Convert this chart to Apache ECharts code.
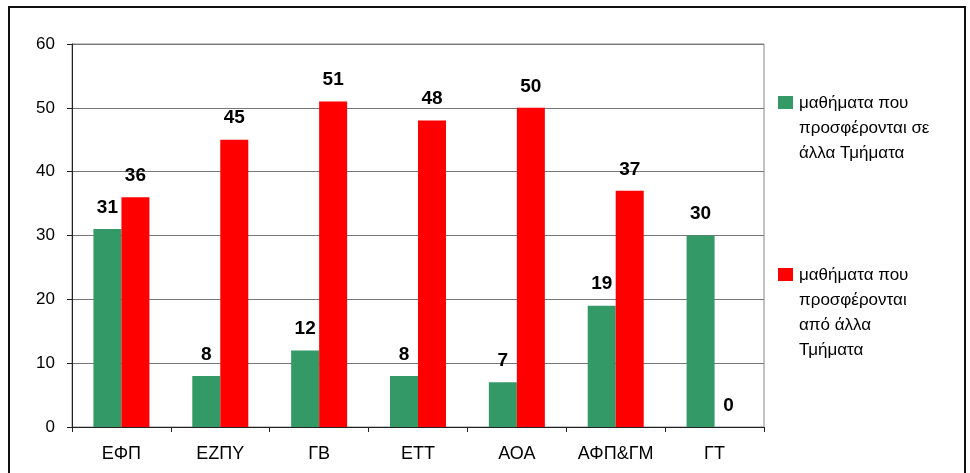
<!DOCTYPE html>
<html><head><meta charset="utf-8">
<script src="https://cdn.jsdelivr.net/npm/echarts@6/dist/echarts.min.js"></script>
<style>
html,body{margin:0;padding:0;background:#fff;}
#frame{position:absolute;left:8px;top:6px;width:958px;height:480px;border:2px solid #111;border-bottom:none;box-sizing:border-box;}
#c{position:absolute;left:0;top:0;width:970px;height:473px;}
</style></head>
<body>
<div id="frame"></div>
<div id="c"></div>
<script>
const categories = ['ΕΦΠ','ΕΖΠΥ','ΓΒ','ΕΤΤ','ΑΟΑ','ΑΦΠ&ΓΜ','ΓΤ'];
const offeredToOthers = [31, 8, 12, 8, 7, 19, 30];
const offeredByOthers = [36, 45, 51, 48, 50, 37, 0];
const seriesNames = ['μαθήματα που προσφέρονται σε άλλα Τμήματα','μαθήματα που προσφέρονται από άλλα Τμήματα'];
const legendLines = [['μαθήματα που','προσφέρονται σε','άλλα Τμήματα'],['μαθήματα που','προσφέρονται','από άλλα','Τμήματα']];
const colors = ['#339966','#FF0000'];
const yTicks = [0,10,20,30,40,50,60];

const chart = echarts.init(document.getElementById('c'), null, {renderer:'canvas'});
const font = 'Arial, "Liberation Sans", sans-serif';
const labelCfg = {show:true, position:'top', distance:12, fontFamily:font, fontWeight:'bold', fontSize:19, color:'#000'};

function legendGraphics(){
  const g = [];
  const tops = [96, 268];
  legendLines.forEach((lines,i)=>{
    g.push({type:'rect', left:778, top:tops[i], shape:{width:15,height:13}, style:{fill:colors[i]}});
    g.push({type:'text', left:799, top:tops[i]-5, style:{text:lines.join('\n'), font:'17px '+font, lineHeight:25, fill:'#000'}});
  });
  return g;
}

chart.setOption({
  animation:false,
  backgroundColor:'transparent',
  grid:{left:72, right:206, top:44, bottom:46, show:true, borderColor:'#888', borderWidth:1, backgroundColor:'transparent'},
  xAxis:{type:'category', data:categories,
    axisLine:{lineStyle:{color:'#222', width:1}},
    axisTick:{show:true, length:5, lineStyle:{color:'#222'}},
    axisLabel:{fontFamily:font, fontSize:18, color:'#000', margin:18}},
  yAxis:{type:'value', min:yTicks[0], max:yTicks[yTicks.length-1], interval:10,
    axisLine:{show:true, lineStyle:{color:'#222', width:1}},
    axisTick:{show:true, length:5, lineStyle:{color:'#222'}},
    axisLabel:{fontFamily:font, fontSize:17, color:'#000', margin:17},
    splitLine:{show:true, lineStyle:{color:'#777', width:1}}},
  series:[
    {name:seriesNames[0], type:'bar', data:offeredToOthers, barWidth:28, barGap:'0%', itemStyle:{color:colors[0]}, label:labelCfg},
    {name:seriesNames[1], type:'bar', data:offeredByOthers, barWidth:28, barGap:'0%', itemStyle:{color:colors[1]}, label:labelCfg}
  ],
  graphic: legendGraphics()
});
</script>
</body></html>
